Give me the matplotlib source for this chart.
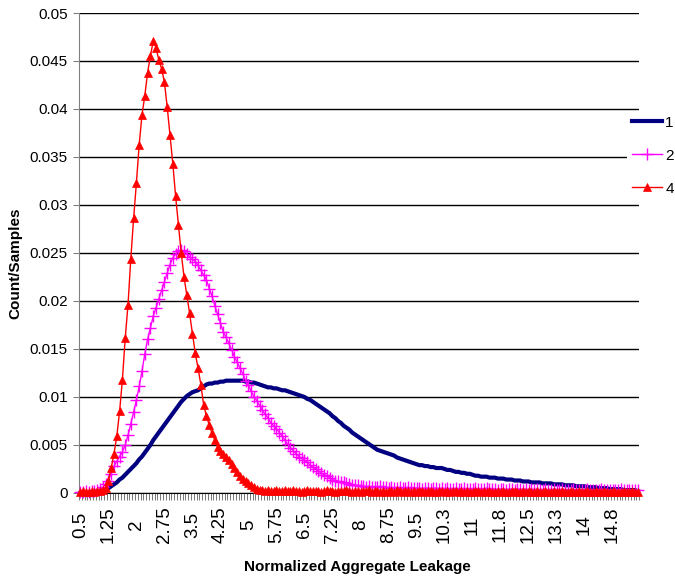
import numpy as np
import matplotlib
matplotlib.use("Agg")
import matplotlib.pyplot as plt
from matplotlib.ticker import FixedLocator, FuncFormatter

plt.rcParams['font.family'] = ['Liberation Sans', 'DejaVu Sans']

# leakage bins: 0.5 .. 15.425, step 0.075 (200 categories)
n_bins = 200
leak_bins = np.round(0.5 + 0.075 * np.arange(n_bins), 4)
tick_labels = ['0.5', '1.25', '2', '2.75', '3.5', '4.25', '5', '5.75', '6.5', '7.25',
               '8', '8.75', '9.5', '10.3', '11', '11.8', '12.5', '13.3', '14', '14.8']

# count/samples, in units of 1e-4
s1 = [0, 0, 0, 0, 0, 0, 0, 0, 1, 3,
      5, 7, 9, 11, 14, 16, 19, 22, 25, 28,
      31, 35, 38, 42, 46, 50, 55, 59, 63, 67,
      71, 75, 79, 83, 87, 91, 95, 98, 101, 103,
      105, 106, 107, 109, 111, 113, 114, 114, 115, 115,
      116, 116, 117, 117, 117, 117, 117, 117, 117, 116,
      116, 115, 115, 114, 113, 112, 111, 110, 110, 109,
      109, 108, 107, 107, 106, 105, 104, 103, 102, 101,
      100, 98, 97, 95, 93, 91, 89, 87, 85, 83,
      80, 78, 75, 73, 70, 68, 66, 63, 61, 59,
      57, 55, 53, 51, 49, 47, 45, 44, 43, 42,
      41, 40, 39, 37, 36, 35, 34, 33, 32, 31,
      30, 29, 29, 28, 28, 27, 27, 26, 26, 26,
      25, 24, 24, 23, 22, 22, 21, 21, 20, 20,
      19, 18, 18, 17, 17, 17, 16, 16, 16, 15,
      15, 15, 14, 14, 14, 13, 13, 13, 12, 12,
      12, 11, 11, 11, 11, 10, 10, 10, 10, 9,
      9, 9, 9, 8, 8, 8, 8, 7, 7, 7,
      7, 6, 6, 6, 6, 5, 5, 5, 5, 4,
      4, 4, 4, 4, 3, 3, 3, 3, 3, 2]

s2 = [1, 1, 2, 1, 2, 2, 3, 4, 6, 9,
      13, 20, 28, 33, 38, 43, 50, 60, 72, 84,
      97, 111, 127, 145, 160, 172, 184, 193, 202, 211,
      220, 229, 238, 245, 249, 252, 253, 252, 249, 246,
      244, 241, 237, 232, 227, 222, 213, 205, 195, 186,
      177, 168, 162, 156, 149, 142, 136, 130, 124, 117,
      112, 106, 100, 96, 91, 86, 82, 78, 73, 70,
      67, 63, 59, 55, 51, 47, 44, 41, 38, 36,
      34, 32, 29, 27, 25, 23, 21, 19, 18, 16,
      14, 13, 12, 11, 11, 10, 9, 8, 8, 8,
      7, 7, 6, 7, 6, 6, 6, 7, 6, 6,
      5, 6, 5, 5, 6, 5, 5, 6, 5, 5,
      5, 5, 4, 5, 5, 4, 5, 5, 4, 5,
      4, 5, 4, 4, 5, 4, 4, 5, 4, 4,
      4, 5, 4, 4, 4, 5, 4, 4, 4, 3,
      4, 4, 3, 4, 4, 3, 4, 4, 3, 4,
      3, 4, 3, 4, 3, 3, 4, 3, 3, 4,
      3, 3, 4, 3, 3, 3, 4, 3, 3, 3,
      3, 4, 3, 3, 3, 3, 4, 3, 3, 3,
      3, 3, 3, 4, 3, 3, 3, 3, 3, 3]

s4 = [1, 2, 1, 1, 2, 1, 2, 2, 3, 5,
      13, 26, 41, 59, 85, 118, 161, 196, 244, 286,
      323, 363, 394, 414, 438, 455, 471, 464, 451, 442,
      428, 402, 373, 343, 309, 279, 250, 225, 206, 187,
      166, 146, 130, 113, 92, 80, 71, 62, 55, 48,
      44, 41, 38, 34, 30, 26, 22, 18, 15, 12,
      10, 8, 6, 4, 3, 3, 2, 3, 2, 2,
      3, 2, 2, 3, 2, 2, 3, 2, 2, 1,
      2, 3, 2, 2, 2, 2, 1, 2, 3, 2,
      2, 1, 2, 2, 2, 3, 2, 1, 2, 2,
      1, 2, 2, 3, 1, 2, 2, 1, 2, 1,
      2, 2, 1, 3, 2, 1, 2, 2, 1, 2,
      1, 2, 2, 1, 2, 2, 1, 1, 2, 2,
      1, 2, 1, 2, 2, 1, 2, 1, 2, 1,
      1, 2, 2, 1, 2, 1, 2, 1, 1, 2,
      1, 2, 1, 1, 2, 2, 1, 1, 2, 1,
      2, 1, 1, 2, 1, 1, 2, 1, 1, 2,
      1, 1, 2, 1, 1, 2, 1, 1, 2, 1,
      1, 2, 1, 1, 2, 1, 1, 2, 1, 1,
      2, 1, 1, 1, 2, 1, 1, 2, 1, 1]

y1 = np.array(s1) * 1e-4
y2 = np.array(s2) * 1e-4
y4 = np.array(s4) * 1e-4
idx = np.arange(n_bins)

fig = plt.figure(figsize=(6.75, 5.83), dpi=100)
ax = fig.add_axes([0.117, 0.1544, 0.83, 0.8233])

ax.plot(idx, y1, color='#000080', lw=3.0, label='1', clip_on=False, zorder=3)
ax.plot(idx, y2, color='#FF00FF', lw=1.0, marker='+', ms=8, mew=1.0,
        label='2', clip_on=False, zorder=4)
ax.plot(idx, y4, color='#FF0000', lw=1.0, marker='^', ms=5.5, mew=0.5,
        label='4', clip_on=False, zorder=5)

ax.set_xlim(-0.5, n_bins - 0.5)
ax.set_ylim(0, 0.05)

# y axis
ax.set_yticks(np.arange(0, 0.0501, 0.005))
ax.yaxis.set_major_formatter(FuncFormatter(lambda v, p: '%g' % round(v, 4)))
ax.yaxis.grid(True, color='black', lw=1.0)
ax.set_axisbelow(True)
ax.tick_params(axis='y', direction='out', length=4, width=0.8, color='#808080',
               labelsize=11, pad=4)

# x axis: category ticks at every bin edge, labels every 10 bins
ax.set_xticks(idx[::10])
ax.set_xticklabels(tick_labels, rotation=90, va='center', ha='center')
ax.xaxis.set_minor_locator(FixedLocator(np.arange(-0.5, n_bins, 1.0)))
ax.tick_params(axis='x', which='major', length=0, labelsize=13.5, pad=23)
ax.tick_params(axis='x', which='minor', direction='out', length=5, width=0.6,
               color='#606060')

for side in ('top', 'right'):
    ax.spines[side].set_visible(False)
ax.spines['left'].set_color('#808080')
ax.spines['bottom'].set_color('black')

fig.text(357 / 675, 1 - 567 / 583, 'Normalized Aggregate Leakage',
         ha='center', va='center', fontsize=11, fontweight='bold')
fig.text(15 / 675, 1 - 263 / 583, 'Count/Samples', rotation=90,
         ha='center', va='center', fontsize=11, fontweight='bold')

leg = fig.legend(loc='upper left', bbox_to_anchor=(627 / 675, 1 - 111 / 583),
                 frameon=True, facecolor='white', edgecolor='none', framealpha=1,
                 fontsize=11, handlelength=2.0, handletextpad=0.2,
                 labelspacing=1.25, borderpad=0.3, borderaxespad=0, fancybox=False)

fig.savefig('out.png', dpi=100)
